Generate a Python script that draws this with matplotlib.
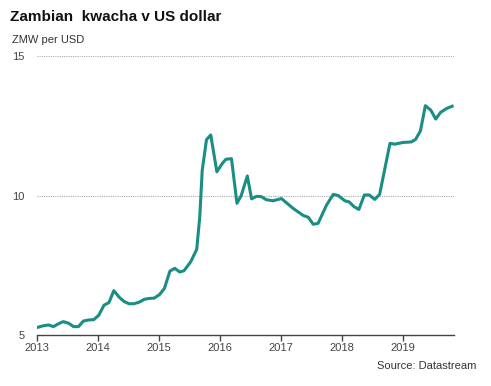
import matplotlib.pyplot as plt
import numpy as np

plt.rcParams['font.family'] = ['Liberation Sans', 'DejaVu Sans']

# decimal year, ZMW per USD
years = [2013.02, 2013.10, 2013.19, 2013.27, 2013.35, 2013.43, 2013.52, 2013.60,
         2013.68, 2013.76, 2013.85, 2013.93, 2014.01, 2014.10, 2014.18, 2014.26,
         2014.35, 2014.43, 2014.51, 2014.59, 2014.68, 2014.76, 2014.84, 2014.92,
         2015.01, 2015.09, 2015.18, 2015.26, 2015.34, 2015.41, 2015.52, 2015.62,
         2015.67, 2015.71, 2015.78, 2015.85, 2015.95, 2016.04, 2016.10, 2016.19,
         2016.28, 2016.35, 2016.45, 2016.52, 2016.60, 2016.68, 2016.76, 2016.87,
         2017.01, 2017.20, 2017.37, 2017.45, 2017.53, 2017.61, 2017.75, 2017.86,
         2017.94, 2018.05, 2018.12, 2018.20, 2018.28, 2018.37, 2018.45, 2018.54,
         2018.62, 2018.79, 2018.87, 2019.00, 2019.14, 2019.21, 2019.29, 2019.37,
         2019.46, 2019.54, 2019.62, 2019.72, 2019.81]
zmw = [5.28, 5.33, 5.36, 5.30, 5.40, 5.48, 5.42, 5.30, 5.30, 5.50, 5.54, 5.55,
       5.70, 6.07, 6.16, 6.59, 6.35, 6.20, 6.12, 6.12, 6.18, 6.28, 6.31, 6.32,
       6.45, 6.67, 7.29, 7.39, 7.26, 7.30, 7.62, 8.07, 9.24, 10.90, 12.00, 12.17,
       10.85, 11.15, 11.30, 11.32, 9.72, 10.00, 10.70, 9.88, 9.97, 9.96, 9.85, 9.81,
       9.89, 9.54, 9.28, 9.22, 8.97, 9.00, 9.66, 10.04, 10.00, 9.81, 9.77, 9.60,
       9.50, 10.02, 10.02, 9.86, 10.04, 11.87, 11.84, 11.90, 11.92, 12.01, 12.32,
       13.22, 13.06, 12.74, 12.98, 13.12, 13.20]

xticks = [2013, 2014, 2015, 2016, 2017, 2018, 2019]
yticks = [5, 10, 15]

fig = plt.figure(figsize=(4.91, 3.86), dpi=100)
ax = fig.add_axes([37 / 491, 51 / 386, 417 / 491, 279 / 386])

for v in [10, 15]:
    ax.axhline(v, color='#aaaaaa', lw=0.8, ls=(0, (1, 1)), zorder=1)

ax.plot(years, zmw, color='#1a8e84', lw=2.2, zorder=3, solid_joinstyle='round')

ax.set_xlim(2013, 2019.84)
ax.set_ylim(5, 15)

for s in ['top', 'right', 'left']:
    ax.spines[s].set_visible(False)
ax.spines['bottom'].set_color('#444444')
ax.spines['bottom'].set_linewidth(1.0)

ax.set_xticks(xticks)
ax.set_xticklabels([str(t) for t in xticks])
ax.set_yticks(yticks)
ax.tick_params(axis='x', length=4, width=1, color='#444444', labelsize=8,
               labelcolor='#444444', pad=2)
ax.tick_params(axis='y', length=0, labelsize=8, labelcolor='#444444', pad=9)

fig.text(10 / 491, 1 - 17 / 386, 'Zambian  kwacha v US dollar', fontsize=11,
         fontweight='bold', va='center', ha='left', color='#111111')
fig.text(12 / 491, 1 - 40 / 386, 'ZMW per USD', fontsize=8, va='center',
         ha='left', color='#333333')
fig.text(476 / 491, 1 - 366 / 386, 'Source: Datastream', fontsize=8,
         va='center', ha='right', color='#333333')

fig.savefig('out.png', dpi=100)
